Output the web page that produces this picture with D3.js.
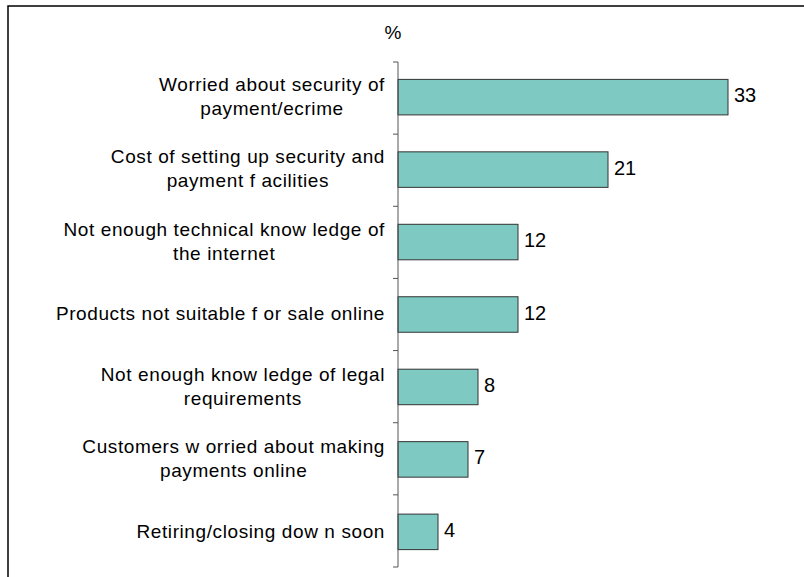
<!DOCTYPE html>
<html>
<head>
<meta charset="utf-8">
<script src="https://cdn.jsdelivr.net/npm/d3@7"></script>
<style>
  html, body { margin: 0; padding: 0; background: #fff; }
  svg { display: block; }
  text { font-family: Arial, "Liberation Sans", sans-serif; fill: #000; }
</style>
</head>
<body>
<svg id="chart" width="804" height="577"></svg>
<script>
// Reasons for not selling online (% of businesses)
const categories = [
  "Worried about security of\npayment/ecrime",
  "Cost of setting up security and\npayment f acilities",
  "Not enough technical know ledge of\nthe internet",
  "Products not suitable f or sale online",
  "Not enough know ledge of legal\nrequirements",
  "Customers w orried about making\npayments online",
  "Retiring/closing dow n soon"
];
const values = [33, 21, 12, 12, 8, 7, 4];
const unitLabel = "%";

const svg = d3.select("#chart");

// outer frame (runs off the right and bottom edges)
svg.append("rect")
  .attr("x", 8).attr("y", 6)
  .attr("width", 820).attr("height", 600)
  .attr("fill", "none").attr("stroke", "#000").attr("stroke-width", 1.5);

const x = d3.scaleLinear().domain([0, 35]).range([398, 748]);
const y = d3.scaleBand().domain(categories).range([62, 567])
  .paddingInner(0.51).paddingOuter(0.24);

// bars
svg.selectAll("rect.bar").data(values).join("rect")
  .attr("class", "bar")
  .attr("x", x(0))
  .attr("y", (d, i) => y(categories[i]))
  .attr("width", d => x(d) - x(0))
  .attr("height", y.bandwidth())
  .attr("fill", "#7ecac3")
  .attr("stroke", "#333").attr("stroke-width", 1);

// category axis: line plus ticks at band boundaries
const axisG = svg.append("g").attr("stroke", "#555").attr("stroke-width", 1);
const y0 = y.range()[0], y1 = y.range()[1];
const step = (y1 - y0) / categories.length;
axisG.append("line").attr("x1", x(0)).attr("x2", x(0)).attr("y1", y0).attr("y2", y1);
axisG.selectAll("line.tick").data(d3.range(categories.length + 1)).join("line")
  .attr("class", "tick")
  .attr("x1", x(0) - 5).attr("x2", x(0))
  .attr("y1", i => y0 + i * step).attr("y2", i => y0 + i * step);

// category labels
const lineH = 24;
categories.forEach(c => {
  const lines = c.split("\n");
  const cy = y(c) + y.bandwidth() / 2 - 1;
  const t = svg.append("text")
    .attr("text-anchor", "middle")
    .attr("font-size", 19)
    .attr("letter-spacing", "0.6px");
  lines.forEach((ln, k) => {
    t.append("tspan")
      .attr("x", 0)
      .attr("y", cy + (k - (lines.length - 1) / 2) * lineH)
      .attr("dy", "0.35em")
      .text(ln);
  });
  // right-align the block, centre lines within it
  const w = t.node().getBBox().width;
  t.selectAll("tspan").attr("x", 385 - w / 2);
});

// value labels
svg.selectAll("text.val").data(values).join("text")
  .attr("class", "val")
  .attr("x", d => x(d) + 6)
  .attr("y", (d, i) => y(categories[i]) + y.bandwidth() / 2 - 2)
  .attr("dy", "0.35em")
  .attr("font-size", 20)
  .text(d => d);

// unit label
svg.append("text")
  .attr("x", 393).attr("y", 32).attr("dy", "0.35em")
  .attr("text-anchor", "middle").attr("font-size", 19)
  .text(unitLabel);
</script>
</body>
</html>
